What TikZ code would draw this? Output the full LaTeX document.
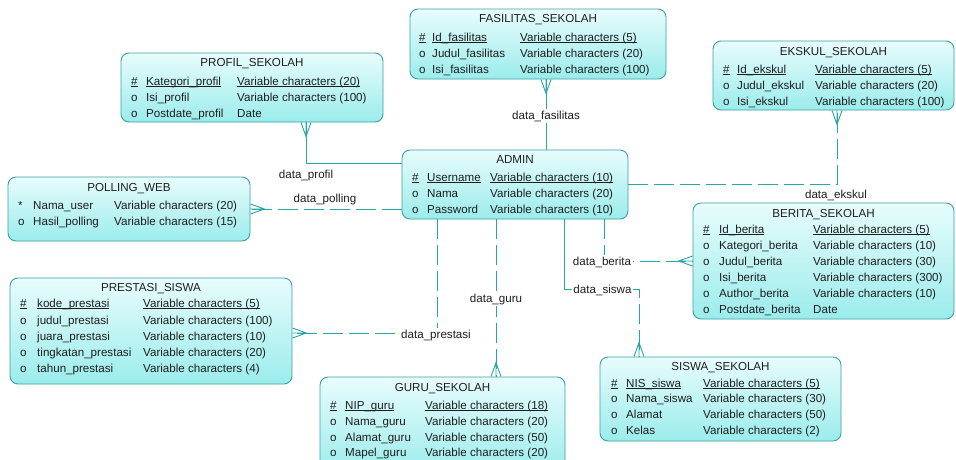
\documentclass[tikz,border=0pt]{standalone}
\usepackage{fontspec}
\setmainfont{Liberation Sans}
\usetikzlibrary{shadings}
\definecolor{lnc}{RGB}{40,165,165}
\definecolor{bdc}{RGB}{60,160,160}
\definecolor{btop}{RGB}{232,252,252}
\definecolor{bbot}{RGB}{155,236,236}
\definecolor{txc}{RGB}{30,30,30}
\newcommand\pkul[1]{\setbox0\hbox{#1}\rlap{\rule[-1.7pt]{\wd0}{0.55pt}}\box0}
\newcommand\erow[8]{%
  \node[txt] (#1-m) at (#2,#5) {#6};
  \node[txt] (#1-n) at (#3,#5) {#7};
  \node[txt] (#1-t) at (#4,#5) {#8};}
\newcommand\efont{\fontsize{11.6}{13}\selectfont}
\begin{document}
\begin{tikzpicture}[x=1pt,y=-1pt,
  ent/.style={draw=bdc, line width=0.9pt, rounded corners=8pt, top color=btop, bottom color=bbot, inner sep=0pt},
  txt/.style={anchor=base west, inner sep=0pt, yshift=-4pt, font=\efont, text=txc},
  ttl/.style={anchor=base, inner sep=0pt, yshift=-4pt, font=\efont, text=txc},
  lbl/.style={anchor=base, fill=white, inner sep=1.5pt, yshift=-4pt, font=\efont, text=txc},
  rel/.style={draw=lnc, line width=0.9pt},
  reld/.style={rel, dash pattern=on 20pt off 6pt},
  crowfoot/.pic={\draw[lnc, line width=0.9pt, solid] (0,-5) -- (14,0) -- (0,5) (0,0) -- (14,0);}
]
\useasboundingbox (0,0) rectangle (956,459);
\clip (0,0) rectangle (956,459);
\fill[white] (0,0) rectangle (956,459);

% entity boxes
\node[ent, minimum width=256pt, minimum height=70pt] (fas) at (538,44) {};
\node[ent, minimum width=262pt, minimum height=69pt] (prof) at (252,87.5) {};
\node[ent, minimum width=241pt, minimum height=69pt] (eks) at (833.5,75.5) {};
\node[ent, minimum width=242pt, minimum height=64pt] (poll) at (129,209) {};
\node[ent, minimum width=226pt, minimum height=69pt] (adm) at (515,184.5) {};
\node[ent, minimum width=261pt, minimum height=116pt] (ber) at (823.5,261) {};
\node[ent, minimum width=282pt, minimum height=106pt] (pres) at (151,331) {};
\node[ent, minimum width=245pt, minimum height=98pt] (guru) at (442.5,426) {};
\node[ent, minimum width=241pt, minimum height=84pt] (sis) at (720.5,399) {};

% connector corners
\coordinate (fc) at (546,0);
\coordinate (pc) at (306,163);
\coordinate (ec) at (837,184);
\coordinate (bc) at (604,261);
\coordinate (sc1) at (564,289);
\coordinate (sm) at (602,289);
\coordinate (sc2) at (639,289);
\coordinate (gc) at (496,0);
\coordinate (rc) at (437,333);

% connectors
\draw[rel] (adm.north -| fc) -- (fas.south -| fc);
\draw[rel] (adm.west |- pc) -- (pc) -- (prof.south -| pc);
\draw[reld] (adm.west |- poll.east) -- (poll.east);
\draw[reld] (adm.east |- ec) -- (ec) -- (eks.south -| ec);
\draw[reld] (adm.south -| bc) -- (bc) -- (ber.west |- bc);
\draw[rel] (adm.south -| sc1) -- (sc1) -- (sm);
\draw[reld] (sm) -- (sc2) -- (sis.north -| sc2);
\draw[reld] (adm.south -| gc) -- (guru.north -| gc);
\draw[reld] (adm.south -| rc) -- (rc) -- (pres.east |- rc);

% crow's feet
\pic[rotate=-90] at (fas.south -| fc) {crowfoot};
\pic[rotate=-90] at (prof.south -| pc) {crowfoot};
\pic at (poll.east) {crowfoot};
\pic[rotate=-90] at (eks.south -| ec) {crowfoot};
\pic[rotate=180] at (ber.west |- bc) {crowfoot};
\pic[rotate=90] at (sis.north -| sc2) {crowfoot};
\pic[rotate=90] at (guru.north -| gc) {crowfoot};
\pic at (pres.east |- rc) {crowfoot};

% connector labels
\node[lbl] (l-fas) at (546,115) {data\_fasilitas};
\node[lbl] (l-prof) at (306,174) {data\_profil};
\node[lbl] (l-poll) at (325,198) {data\_polling};
\node[lbl] (l-eks) at (836,194) {data\_ekskul};
\node[lbl] (l-ber) at (602,261) {data\_berita};
\node[lbl] (l-sis) at (602.5,289) {data\_siswa};
\node[lbl] (l-guru) at (496,298) {data\_guru};
\node[lbl] (l-pres) at (436,334) {data\_prestasi};

% FASILITAS_SEKOLAH
\node[ttl] (fas-h) at (538,18) {FASILITAS\_SEKOLAH};
\erow{fas1}{419}{432}{520}{37}{\pkul{\#}}{\pkul{Id\_fasilitas}}{\pkul{Variable characters (5)}}
\erow{fas2}{419}{432}{520}{53}{o}{Judul\_fasilitas}{Variable characters (20)}
\erow{fas3}{419}{432}{520}{69}{o}{Isi\_fasilitas}{Variable characters (100)}

% PROFIL_SEKOLAH
\node[ttl] (prof-h) at (252,62) {PROFIL\_SEKOLAH};
\erow{prof1}{131}{146}{237}{81}{\pkul{\#}}{\pkul{Kategori\_profil}}{\pkul{Variable characters (20)}}
\erow{prof2}{131}{146}{237}{97}{o}{Isi\_profil}{Variable characters (100)}
\erow{prof3}{131}{146}{237}{113}{o}{Postdate\_profil}{Date}

% EKSKUL_SEKOLAH
\node[ttl] (eks-h) at (833.5,51) {EKSKUL\_SEKOLAH};
\erow{eks1}{723}{737}{815}{69}{\pkul{\#}}{\pkul{Id\_ekskul}}{\pkul{Variable characters (5)}}
\erow{eks2}{723}{737}{815}{85}{o}{Judul\_ekskul}{Variable characters (20)}
\erow{eks3}{723}{737}{815}{101}{o}{Isi\_ekskul}{Variable characters (100)}

% POLLING_WEB
\node[ttl] (poll-h) at (129,187) {POLLING\_WEB};
\erow{poll1}{18}{33}{114}{205}{*}{Nama\_user}{Variable characters (20)}
\erow{poll2}{18}{33}{114}{221}{o}{Hasil\_polling}{Variable characters (15)}

% ADMIN
\node[ttl] (adm-h) at (515,159) {ADMIN};
\erow{adm1}{412}{427}{490}{177}{\pkul{\#}}{\pkul{Username}}{\pkul{Variable characters (10)}}
\erow{adm2}{412}{427}{490}{193}{o}{Nama}{Variable characters (20)}
\erow{adm3}{412}{427}{490}{209}{o}{Password}{Variable characters (10)}

% BERITA_SEKOLAH
\node[ttl] (ber-h) at (823.5,213) {BERITA\_SEKOLAH};
\erow{ber1}{703}{719}{813}{229}{\pkul{\#}}{\pkul{Id\_berita}}{\pkul{Variable characters (5)}}
\erow{ber2}{703}{719}{813}{245}{o}{Kategori\_berita}{Variable characters (10)}
\erow{ber3}{703}{719}{813}{261}{o}{Judul\_berita}{Variable characters (30)}
\erow{ber4}{703}{719}{813}{277}{o}{Isi\_berita}{Variable characters (300)}
\erow{ber5}{703}{719}{813}{293}{o}{Author\_berita}{Variable characters (10)}
\erow{ber6}{703}{719}{813}{309}{o}{Postdate\_berita}{Date}

% PRESTASI_SISWA
\node[ttl] (pres-h) at (151,287) {PRESTASI\_SISWA};
\erow{pres1}{20}{37}{143}{303}{\pkul{\#}}{\pkul{kode\_prestasi}}{\pkul{Variable characters (5)}}
\erow{pres2}{20}{37}{143}{320}{o}{judul\_prestasi}{Variable characters (100)}
\erow{pres3}{20}{37}{143}{336}{o}{juara\_prestasi}{Variable characters (10)}
\erow{pres4}{20}{37}{143}{352}{o}{tingkatan\_prestasi}{Variable characters (20)}
\erow{pres5}{20}{37}{143}{368}{o}{tahun\_prestasi}{Variable characters (4)}

% GURU_SEKOLAH
\node[ttl] (guru-h) at (442.5,387) {GURU\_SEKOLAH};
\erow{guru1}{330}{345}{425}{405}{\pkul{\#}}{\pkul{NIP\_guru}}{\pkul{Variable characters (18)}}
\erow{guru2}{330}{345}{425}{421}{o}{Nama\_guru}{Variable characters (20)}
\erow{guru3}{330}{345}{425}{437}{o}{Alamat\_guru}{Variable characters (50)}
\erow{guru4}{330}{345}{425}{452}{o}{Mapel\_guru}{Variable characters (20)}

% SISWA_SEKOLAH
\node[ttl] (sis-h) at (720.5,366) {SISWA\_SEKOLAH};
\erow{sis1}{611}{626}{703}{383}{\pkul{\#}}{\pkul{NIS\_siswa}}{\pkul{Variable characters (5)}}
\erow{sis2}{611}{626}{703}{398}{o}{Nama\_siswa}{Variable characters (30)}
\erow{sis3}{611}{626}{703}{414}{o}{Alamat}{Variable characters (50)}
\erow{sis4}{611}{626}{703}{430}{o}{Kelas}{Variable characters (2)}
\end{tikzpicture}
\end{document}
